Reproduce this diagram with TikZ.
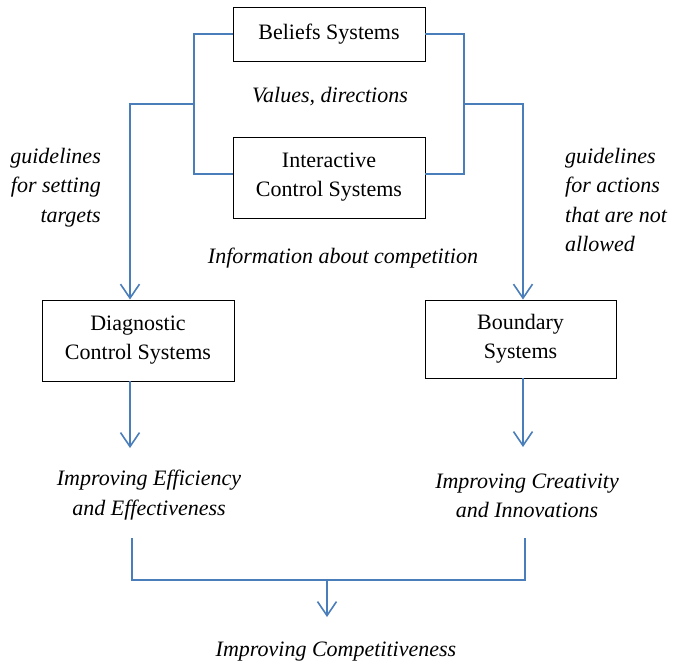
\documentclass[tikz,border=0pt]{standalone}
\usepackage{fontspec}
\newfontfamily\diagfont{Liberation Serif}
\newfontfamily\altserif{DejaVu Serif}
\newfontfamily\lmfont{Latin Modern Roman}
\newfontfamily\altsans{Liberation Sans}
\usetikzlibrary{arrows.meta}
\definecolor{linkblue}{HTML}{4A7EBB}
\begin{document}
\begin{tikzpicture}[x=1pt,y=-1pt,
  every node/.style={font=\diagfont\fontsize{22}{29}\selectfont},
  sysbox/.style={draw=black, line width=0.9pt, align=center, inner sep=0pt},
  note/.style={font=\diagfont\fontsize{22}{29.5}\selectfont\itshape, inner sep=0pt},
  link/.style={draw=linkblue, line width=1.6pt},
  flow/.style={link, -{Straight Barb[length=14pt,width=19pt,line width=1.6pt]}}]
\useasboundingbox (0,0) rectangle (673,665);

% systems
\node[sysbox, minimum width=192pt, minimum height=54pt] (bel) at (329,34) {Beliefs Systems};
\node[sysbox, minimum width=192pt, minimum height=81pt] (int) at (329,177.5) {Interactive\\Control Systems};
\node[sysbox, minimum width=192pt, minimum height=81pt] (diag) at (138,340.5) {Diagnostic\\Control Systems};
\node[sysbox, minimum width=191pt, minimum height=78pt] (bound) at (520.5,339) {Boundary\\Systems};

% labels
\node[note] (vals) at (330,97) {Values, directions};
\node[note] (info) at (343,258) {Information about competition};
\node[note, align=right, anchor=north east] (lguide) at (101,148) {guidelines\\for setting\\targets};
\node[note, align=left, anchor=north west] (rguide) at (565,148) {guidelines\\for actions\\that are not\\allowed};
\node[note, align=center] (eff) at (149,495) {Improving Efficiency\\and Effectiveness};
\node[note, align=center] (cre) at (527,496) {Improving Creativity\\and Innovations};
\node[note] (comp) at (336,652) {Improving Competitiveness};

% bracket joints
\coordinate (lb) at (194,104);
\coordinate (rb) at (464,104);
\coordinate (lt) at (130,104);
\coordinate (rt) at (523,104);
\coordinate (le) at (130,448);
\coordinate (re) at (523,447);
\coordinate (bl) at (132,538);
\coordinate (br) at (525,538);
\coordinate (bm) at (327,580);
\coordinate (bend) at (327,617);

% brackets joining beliefs and interactive systems
\draw[link] (bel.west |- 0,34) -- (194,34) -- (194,174) -- (int.west |- 0,174);
\draw[link] (bel.east |- 0,34) -- (464,34) -- (464,174) -- (int.east |- 0,174);

% flows to diagnostic and boundary systems
\draw[flow] (lb) -- (lt) -- (lt |- diag.north);
\draw[flow] (rb) -- (rt) -- (rt |- bound.north);
\draw[flow] (lt |- diag.south) -- (le);
\draw[flow] (rt |- bound.south) -- (re);

% merge into competitiveness
\draw[link] (bl) -- (bl |- bm) -- (br |- bm) -- (br);
\draw[flow] (bm) -- (bend);
\end{tikzpicture}
\end{document}
